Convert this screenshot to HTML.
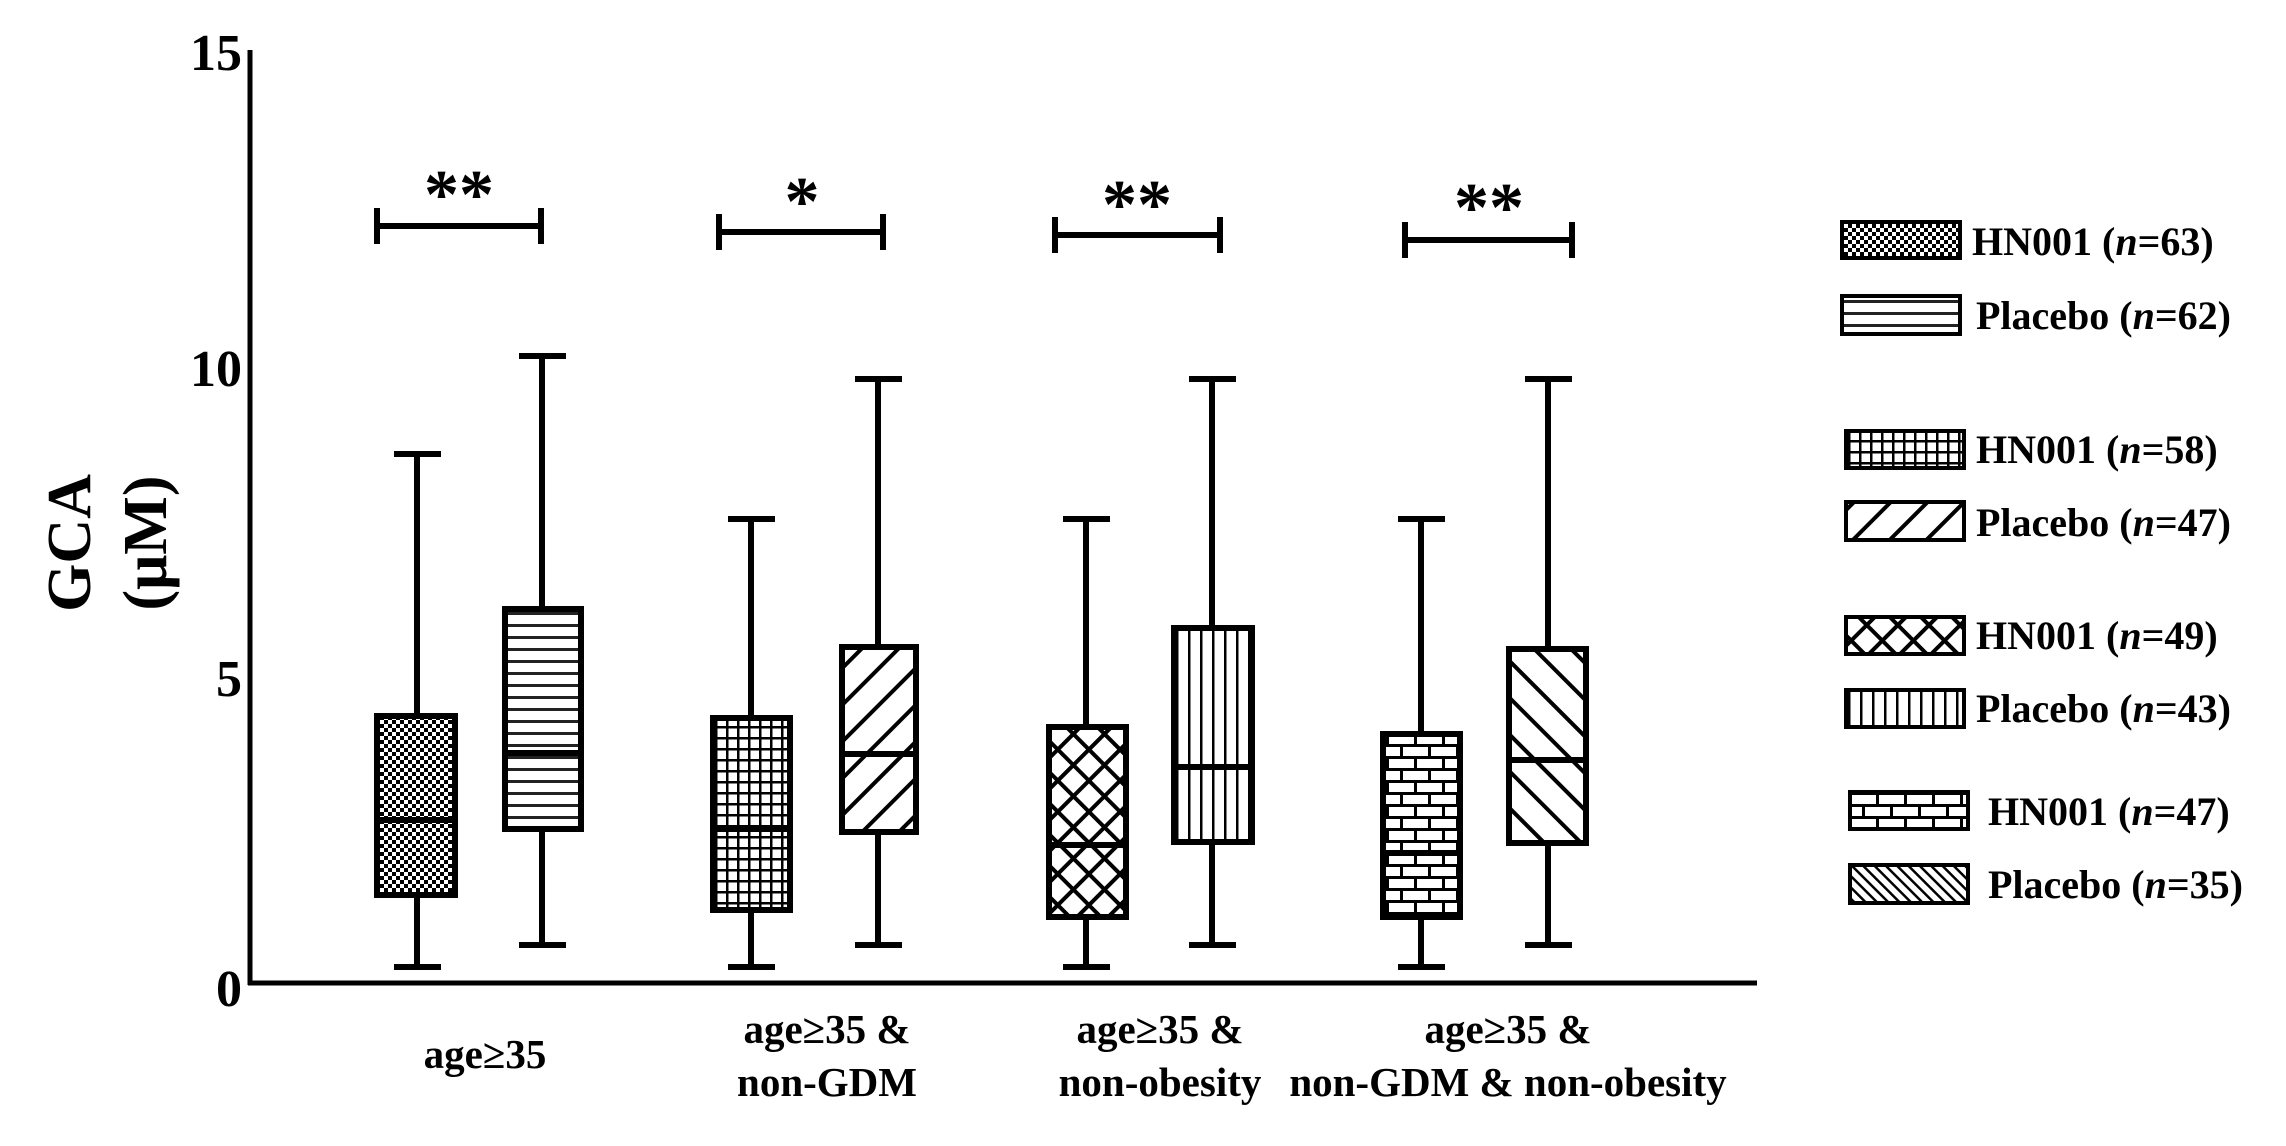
<!DOCTYPE html>
<html><head><meta charset="utf-8"><style>
html,body{margin:0;padding:0;background:#fff;}
svg{display:block}
text{font-family:"Liberation Serif",serif;font-weight:bold;fill:#000}
</style></head><body>
<svg width="2286" height="1146" viewBox="0 0 2286 1146" xmlns="http://www.w3.org/2000/svg">
<defs>
<pattern id="chk" width="8" height="8" patternUnits="userSpaceOnUse"><rect width="8" height="8" fill="#fff"/><rect width="4" height="4" fill="#000"/><rect x="4" y="4" width="4" height="4" fill="#000"/></pattern>
<pattern id="hor" width="10" height="12" patternUnits="userSpaceOnUse"><rect width="10" height="12" fill="#fff"/><rect y="0" width="10" height="3" fill="#222"/></pattern>
<pattern id="grid" width="11" height="11" patternUnits="userSpaceOnUse"><rect width="11" height="11" fill="#fff"/><rect width="11" height="2.5" fill="#000"/><rect width="2.5" height="11" fill="#000"/></pattern>
<pattern id="dia1" width="26" height="26" patternUnits="userSpaceOnUse" patternTransform="rotate(45)"><rect width="26" height="26" fill="#fff"/><rect width="4" height="26" fill="#000"/></pattern>
<pattern id="diam" width="22" height="22" patternUnits="userSpaceOnUse" patternTransform="rotate(45)"><rect width="22" height="22" fill="#fff"/><rect width="4" height="22" fill="#000"/><rect width="22" height="4" fill="#000"/></pattern>
<pattern id="ver" width="12" height="10" patternUnits="userSpaceOnUse"><rect width="12" height="10" fill="#fff"/><rect width="2.5" height="10" fill="#000"/></pattern>
<pattern id="brick" width="28" height="24" patternUnits="userSpaceOnUse"><rect width="28" height="24" fill="#fff"/><rect width="28" height="3" fill="#000"/><rect y="12" width="28" height="3" fill="#000"/><rect x="0" y="0" width="3" height="12" fill="#000"/><rect x="14" y="12" width="3" height="12" fill="#000"/></pattern>
<pattern id="dia2" width="26" height="26" patternUnits="userSpaceOnUse" patternTransform="rotate(-45)"><rect width="26" height="26" fill="#fff"/><rect width="4" height="26" fill="#000"/></pattern>
<pattern id="dia2f" width="8" height="8" patternUnits="userSpaceOnUse" patternTransform="rotate(-45)"><rect width="8" height="8" fill="#fff"/><rect width="2.5" height="8" fill="#000"/></pattern>
</defs>

<line x1="250" y1="50" x2="250" y2="985" stroke="#000" stroke-width="5"/>
<line x1="248" y1="983" x2="1757" y2="983" stroke="#000" stroke-width="5"/>
<text x="242" y="70" font-size="52" text-anchor="end">15</text>
<text x="242" y="386" font-size="52" text-anchor="end">10</text>
<text x="242" y="696" font-size="52" text-anchor="end">5</text>
<text x="242" y="1006" font-size="52" text-anchor="end">0</text>
<text transform="translate(90,543) rotate(-90)" font-size="62" text-anchor="middle">GCA</text>
<text transform="translate(166,543) rotate(-90)" font-size="62" text-anchor="middle">(μM)</text>

<g stroke="#000" stroke-width="6" fill="none">
<line x1="417" y1="454" x2="417" y2="967"/><line x1="394" y1="454" x2="441" y2="454"/><line x1="394" y1="967" x2="441" y2="967"/>
<rect x="377" y="716" width="78" height="179" fill="url(#chk)"/><line x1="377" y1="820" x2="455" y2="820"/>
<line x1="542" y1="356" x2="542" y2="945"/><line x1="519" y1="356" x2="566" y2="356"/><line x1="519" y1="945" x2="566" y2="945"/>
<rect x="505" y="609" width="76" height="220" fill="url(#hor)"/><line x1="505" y1="753" x2="581" y2="753"/>
<line x1="751" y1="519" x2="751" y2="967"/><line x1="728" y1="519" x2="775" y2="519"/><line x1="728" y1="967" x2="775" y2="967"/>
<rect x="713" y="718" width="77" height="192" fill="url(#grid)"/><line x1="713" y1="829" x2="790" y2="829"/>
<line x1="878" y1="379" x2="878" y2="945"/><line x1="855" y1="379" x2="902" y2="379"/><line x1="855" y1="945" x2="902" y2="945"/>
<rect x="842" y="647" width="74" height="185" fill="url(#dia1)"/><line x1="842" y1="754" x2="916" y2="754"/>
<line x1="1086" y1="519" x2="1086" y2="967"/><line x1="1063" y1="519" x2="1110" y2="519"/><line x1="1063" y1="967" x2="1110" y2="967"/>
<rect x="1049" y="727" width="77" height="190" fill="url(#diam)"/><line x1="1049" y1="845" x2="1126" y2="845"/>
<line x1="1212" y1="379" x2="1212" y2="945"/><line x1="1189" y1="379" x2="1236" y2="379"/><line x1="1189" y1="945" x2="1236" y2="945"/>
<rect x="1174" y="628" width="78" height="214" fill="url(#ver)"/><line x1="1174" y1="767" x2="1252" y2="767"/>
<line x1="1421" y1="519" x2="1421" y2="967"/><line x1="1398" y1="519" x2="1445" y2="519"/><line x1="1398" y1="967" x2="1445" y2="967"/>
<rect x="1383" y="734" width="77" height="183" fill="url(#brick)"/><line x1="1383" y1="853" x2="1460" y2="853"/>
<line x1="1548" y1="379" x2="1548" y2="945"/><line x1="1525" y1="379" x2="1572" y2="379"/><line x1="1525" y1="945" x2="1572" y2="945"/>
<rect x="1509" y="649" width="77" height="194" fill="url(#dia2)"/><line x1="1509" y1="760" x2="1586" y2="760"/>

<path d="M377 208V244M377 226H541M541 208V244"/>
<path d="M719 214V250M719 232H883M883 214V250"/>
<path d="M1055 217V253M1055 235H1220M1220 217V253"/>
<path d="M1405 222V258M1405 240H1572M1572 222V258"/>
</g>
<text x="459" y="218" font-size="70" text-anchor="middle">**</text>
<text x="802" y="225" font-size="70" text-anchor="middle">*</text>
<text x="1137" y="228" font-size="70" text-anchor="middle">**</text>
<text x="1489" y="231" font-size="70" text-anchor="middle">**</text>

<text x="485" y="1068" font-size="41" text-anchor="middle">age≥35</text>
<text x="827" y="1043" font-size="41" text-anchor="middle">age≥35 &amp;</text>
<text x="827" y="1096" font-size="41" text-anchor="middle">non-GDM</text>
<text x="1160" y="1043" font-size="41" text-anchor="middle">age≥35 &amp;</text>
<text x="1160" y="1096" font-size="41" text-anchor="middle">non-obesity</text>
<text x="1508" y="1043" font-size="41" text-anchor="middle">age≥35 &amp;</text>
<text x="1508" y="1096" font-size="41" text-anchor="middle">non-GDM &amp; non-obesity</text>

<g stroke="#000" stroke-width="4">
<rect x="1842" y="222" width="118" height="36" fill="url(#chk)"/>
<rect x="1842" y="296" width="118" height="38" fill="url(#hor)"/>
<rect x="1846" y="431" width="118" height="37" fill="url(#grid)"/>
<rect x="1846" y="502" width="118" height="38" fill="url(#dia1)"/>
<rect x="1846" y="617" width="118" height="37" fill="url(#diam)"/>
<rect x="1846" y="690" width="118" height="37" fill="url(#ver)"/>
<rect x="1850" y="792" width="118" height="37" fill="url(#brick)"/>
<rect x="1850" y="865" width="118" height="38" fill="url(#dia2f)"/>
</g>
<g font-size="40">
<text x="1972" y="255">HN001 (<tspan font-style="italic">n</tspan>=63)</text>
<text x="1976" y="329">Placebo (<tspan font-style="italic">n</tspan>=62)</text>
<text x="1976" y="463">HN001 (<tspan font-style="italic">n</tspan>=58)</text>
<text x="1976" y="536">Placebo (<tspan font-style="italic">n</tspan>=47)</text>
<text x="1976" y="649">HN001 (<tspan font-style="italic">n</tspan>=49)</text>
<text x="1976" y="722">Placebo (<tspan font-style="italic">n</tspan>=43)</text>
<text x="1988" y="825">HN001 (<tspan font-style="italic">n</tspan>=47)</text>
<text x="1988" y="898">Placebo (<tspan font-style="italic">n</tspan>=35)</text>
</g>
</svg>
</body></html>
